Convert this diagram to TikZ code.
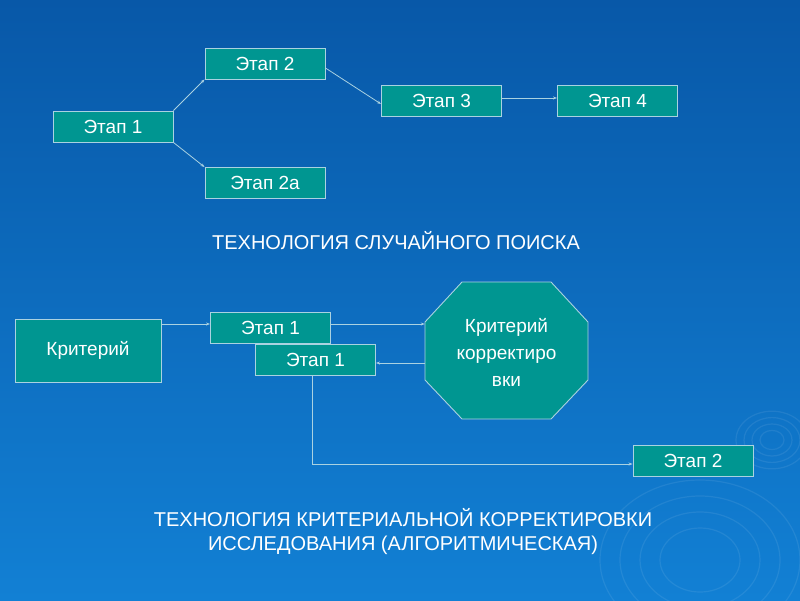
\documentclass[tikz,border=0pt]{standalone}
\usepackage{fontspec}
\setmainfont{Liberation Sans}
\usetikzlibrary{arrows.meta,calc}
\definecolor{bgtop}{RGB}{8,88,168}
\definecolor{bgbot}{RGB}{18,128,212}
\definecolor{boxc}{RGB}{0,150,145}
\definecolor{edgec}{RGB}{170,210,225}
\tikzset{
  stage/.style={draw=edgec, fill=boxc, line width=0.9pt, minimum width=120pt, minimum height=31pt,
    inner sep=0pt, text=white, font=\fontsize{19}{22}\selectfont},
  conn/.style={draw=edgec, line width=0.8pt, -{Stealth[length=4pt,width=3pt]}},
  ttl/.style={text=white, font=\fontsize{20}{24}\selectfont, align=center},
  ripple/.style={draw=white, opacity=0.08, line width=1.2pt}
}
\begin{document}
\begin{tikzpicture}[x=1pt,y=-1pt]
\fill[top color=bgtop, bottom color=bgbot] (0,0) rectangle (800,600);
\useasboundingbox (0,0) rectangle (800,600);
\begin{scope}
\clip (0,0) rectangle (800,600);
\foreach \r in {12,20,28,36} \draw[ripple] (772,440) ellipse ({\r pt} and {0.8*\r pt});
\foreach \r in {40,60,80,100} \draw[ripple] (700,560) ellipse ({\r pt} and {0.8*\r pt});
\end{scope}
% top diagram
\node[stage] (e1) at (113,126.5) {Этап 1};
\node[stage] (e2) at (265,63.5) {Этап 2};
\node[stage] (e2a) at (265,183) {Этап 2а};
\node[stage] (e3) at (441.5,101) {Этап 3};
\node[stage] (e4) at (617.5,101) {Этап 4};
\draw[conn] (e1.north east) -- (e2.south west);
\draw[conn] (e1.south east) -- (e2a.north west);
\draw[conn] ([yshift=-4.5pt]e2.east) -- ([yshift=-3pt]e3.west);
\draw[conn] ([yshift=3pt]e3.east) -- ([yshift=3pt]e4.west);
\node[ttl] (t1) at (396,241) {ТЕХНОЛОГИЯ СЛУЧАЙНОГО ПОИСКА};
% bottom diagram
\node[stage, minimum width=146pt, minimum height=63pt] (krit) at (88,350.5) {Критерий};
\node[stage] (b1) at (270.5,328) {Этап 1};
\node[stage] (b2) at (315.5,360) {Этап 1};
\draw[draw=edgec, fill=boxc, line width=0.9pt] (462,282) -- (551,282) -- (588,322) -- (588,380) -- (551,419) -- (462,419) -- (425,380) -- (425,322) -- cycle;
\node[text=white, font=\fontsize{19}{27}\selectfont, align=center, minimum width=163pt, minimum height=137pt, inner sep=0pt] (oct) at (506.5,352) {Критерий\\корректиро\\вки};
\node[stage] (s2) at (693,460.5) {Этап 2};
\coordinate (k1) at ([yshift=4pt]b1.west);
\draw[conn] (krit.east |- k1) -- (k1);
\coordinate (k2) at ([yshift=4pt]b1.east);
\draw[conn] (k2) -- (oct.west |- k2);
\coordinate (k3) at ([yshift=-3pt]b2.east);
\draw[conn] (oct.west |- k3) -- (k3);
\coordinate (k4) at ([xshift=-3.5pt]b2.south);
\coordinate (k5) at ([yshift=-3.5pt]s2.west);
\draw[conn] (k4) |- (k5);
\node[ttl] (t2) at (403,532) {ТЕХНОЛОГИЯ КРИТЕРИАЛЬНОЙ КОРРЕКТИРОВКИ\\ИССЛЕДОВАНИЯ (АЛГОРИТМИЧЕСКАЯ)};
\end{tikzpicture}
\end{document}
